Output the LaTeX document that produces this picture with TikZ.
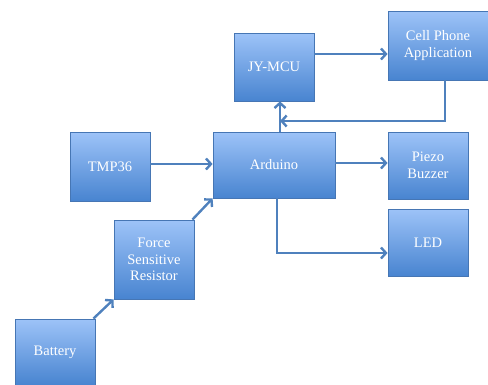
\documentclass[tikz,border=0pt]{standalone}
\usepackage{fontspec}
\setmainfont{Liberation Serif}
\usepackage{xcolor}
\usetikzlibrary{arrows.meta}

\definecolor{boxtop}{RGB}{157,195,248}
\definecolor{boxbot}{RGB}{72,132,208}
\definecolor{boxline}{RGB}{70,118,180}
\definecolor{wire}{RGB}{79,129,189}

\begin{document}
\begin{tikzpicture}[x=1pt, y=-1pt,
    block/.style={draw=boxline, line width=0.8pt, rectangle, top color=boxtop, bottom color=boxbot,
        text=white, align=center, inner sep=2pt, font=\fontsize{14.5}{16.5}\selectfont},
    link/.style={draw=wire, line width=2.4pt, -{Straight Barb[length=5pt, width=11pt]}}]
            \useasboundingbox (0,0) rectangle (488,384);

            \node[block, minimum width=80pt, minimum height=68pt] (jymcu) at (274,67) {JY-MCU};
            \node[block, minimum width=100pt, minimum height=69pt] (cell) at (438,45.5) {Cell Phone\\Application};

            \node[block, minimum width=80pt, minimum height=69pt] (tmp) at (110,166.5) {TMP36};
            \node[block, minimum width=122pt, minimum height=66pt] (ard) at (274,165) {Arduino};
            \node[block, minimum width=80pt, minimum height=67pt] (piezo) at (428,165.5) {Piezo\\Buzzer};
            \node[block, minimum width=80pt, minimum height=67pt] (led) at (428,242.5) {LED};

            \node[block, minimum width=80pt, minimum height=79pt] (fsr) at (154,259.5) {Force\\Sensitive\\Resistor};
            \node[block, minimum width=80pt, minimum height=66pt] (batt) at (55,352) {Battery};

            \coordinate (join) at (280,121);

            \draw[link] (jymcu.east |- 0,54) -- (cell.west |- 0,54);
            \draw[link] (cell.south -| 445,0) |- (join);
            \draw[link] (ard.north -| join) -- (jymcu.south -| join);

            \draw[link] (tmp.east |- 0,164) -- (ard.west |- 0,164);
            \draw[link] ([xshift=-2pt]fsr.north east) -- (ard.south west);
            \draw[link] ([xshift=-2pt]batt.north east) -- (fsr.south west);

            \draw[link] (ard.east |- 0,163) -- (piezo.west |- 0,163);
            \draw[link] (ard.south -| 277,0) |- (led.west |- 0,253);
        \end{tikzpicture}
\end{document}
